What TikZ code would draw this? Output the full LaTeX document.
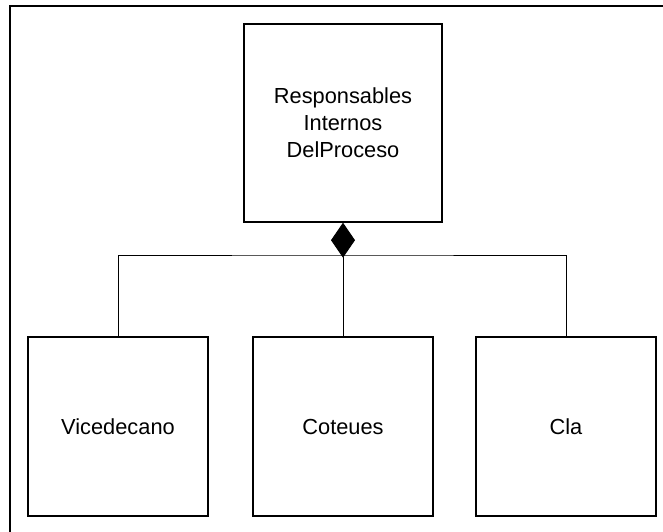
\documentclass[tikz,border=0pt]{standalone}
\usepackage{fontspec}
\setmainfont{Liberation Sans}
\usetikzlibrary{arrows.meta}

\begin{document}
\begin{tikzpicture}[x=1pt,y=-1pt,
    classbox/.style={draw, line width=1.4pt, minimum width=180pt, minimum height=179pt,
      inner sep=0pt, align=center, font=\fontsize{21.8}{27}\selectfont},
    link/.style={line width=0.9pt}]
    \useasboundingbox (0,0) rectangle (663,532);
    \clip (0,0) rectangle (663,532);
    % outer frame, cut off at the right and lower edges
    \draw[line width=1.6pt] (10,6) rectangle (700,570);

    \node[classbox, minimum width=198pt, minimum height=198pt] (resp) at (343,123)
      {Responsables\\Internos\\DelProceso};
    \node[classbox] (vice) at (118,426.5) {Vicedecano};
    \node[classbox] (cote) at (343,426.5) {Coteues};
    \node[classbox] (cla) at (566,426.5) {Cla};

    \coordinate (bus) at (343,255);
    \draw[link] (vice.north) |- (bus) -| (cla.north);
    \draw[link, -{Diamond[length=35pt,width=24pt]}] (cote.north) -- (resp.south);
\end{tikzpicture}
\end{document}
